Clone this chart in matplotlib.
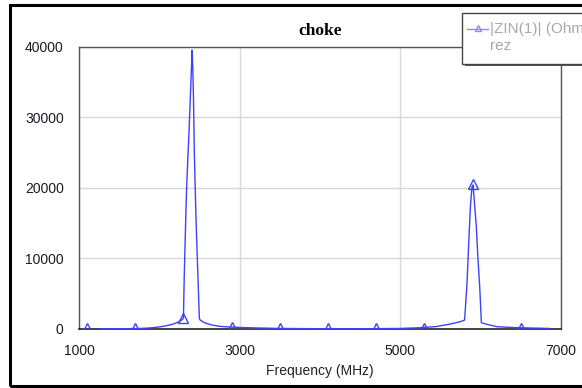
import matplotlib
matplotlib.use("Agg")
import matplotlib.pyplot as plt
from matplotlib.patches import Rectangle

# ---- data ----
freq_mhz = [1250, 1500, 1700, 1850, 1950, 2050, 2150, 2220, 2270, 2300,
            2310, 2325, 2340, 2375, 2385, 2395, 2408, 2416, 2425, 2436,
            2457, 2478, 2498, 2508, 2560, 2650, 2750, 2850, 3000, 3200,
            3500, 3700, 4000, 4300, 4700, 5000, 5250, 5450, 5620, 5745,
            5800, 5830, 5851, 5872, 5892, 5905, 5920, 5946, 5967, 5988,
            6009, 6080, 6205, 6454, 6700, 6850]
zin_ohm = [20, 30, 60, 120, 220, 380, 620, 900, 1200, 1500,
           7400, 14000, 20100, 29500, 32500, 35500, 39500, 37100, 32800, 24800,
           15400, 8300, 1500, 1270, 900, 570, 380, 300, 220, 150,
           80, 60, 40, 40, 50, 80, 180, 350, 700, 1030,
           1270, 6500, 12100, 17300, 20100, 20400, 18300, 14500, 9800, 6000,
           900, 650, 320, 180, 120, 80]

marker_freq = [1100, 1700, 2300, 2900, 3500, 4100, 4700, 5300, 5900, 6500]
marker_val = [150, 150, 1500, 350, 150, 150, 150, 200, 20600, 200]

x_ticks = [1000, 3000, 5000, 7000]
y_ticks = [0, 10000, 20000, 30000, 40000]

title = "choke"
xlabel = "Frequency (MHz)"
legend_line1 = "|ZIN(1)| (Ohm)"
legend_line2 = "rez"

line_color = "#4040ff"

fig = plt.figure(figsize=(5.82, 3.88), dpi=100)
W, H = 582, 388

def fx(px):
    return px / W

def fy(py):
    return 1 - py / H

# outer black border
fig.patches.append(Rectangle((fx(10), fy(386)), fx(600) - fx(10), fy(5) - fy(386),
                             transform=fig.transFigure, fill=False,
                             edgecolor="black", linewidth=2.2, zorder=0))

ax = fig.add_axes([fx(79), fy(329), fx(561) - fx(79), fy(46.5) - fy(329)])
ax.plot(freq_mhz, zin_ohm, color=line_color, linewidth=1.0, zorder=3, clip_on=False)
ax.plot(marker_freq, marker_val, linestyle="none", marker="^", markersize=6.5,
        markerfacecolor="none", markeredgecolor=line_color, markeredgewidth=1.0,
        zorder=4, clip_on=True)

ax.set_xlim(1000, 7000)
ax.set_ylim(0, 40000)
ax.set_xticks(x_ticks)
ax.set_yticks(y_ticks)
ax.set_xticklabels([str(v) for v in x_ticks])
ax.set_yticklabels([str(v) for v in y_ticks])
ax.tick_params(axis="both", length=0, labelsize=10, labelcolor="#1a1a24",
               labelfontfamily="Liberation Sans")
ax.tick_params(axis="x", pad=10.5)
ax.tick_params(axis="y", pad=11)
ax.grid(True, color="#d8d8d8", linewidth=1.0, zorder=0)
ax.set_axisbelow(True)
for side in ["top", "left", "right"]:
    ax.spines[side].set_color("#555555")
    ax.spines[side].set_linewidth(1.0)
ax.spines["bottom"].set_color("#222222")
ax.spines["bottom"].set_linewidth(1.2)

fig.text(fx(320), fy(31), title, ha="center", va="center",
         fontfamily="Liberation Serif", fontweight="bold", fontsize=12.5)
fig.text(fx(320), fy(371), xlabel, ha="center", va="center",
         fontfamily="Liberation Sans", fontsize=10, color="#222222")

# legend box (cut off at the right edge, with drop shadow)
fig.patches.append(Rectangle((fx(465), fy(66)), fx(640) - fx(465), fy(15) - fy(66),
                             transform=fig.transFigure, facecolor="#555555",
                             edgecolor="none", zorder=5))
fig.patches.append(Rectangle((fx(462), fy(64)), fx(640) - fx(462), fy(12.5) - fy(64),
                             transform=fig.transFigure, facecolor="white",
                             edgecolor="#444444", linewidth=1.0, zorder=6))
fig.lines.append(plt.Line2D([fx(467), fx(488)], [fy(28.5), fy(28.5)],
                            transform=fig.transFigure, color="#8c8cf0",
                            linewidth=1.0, zorder=7))
fig.lines.append(plt.Line2D([fx(478)], [fy(27.5)], transform=fig.transFigure,
                            linestyle="none", marker="^", markersize=5,
                            markerfacecolor="none", markeredgecolor="#8c8cf0",
                            zorder=7))
fig.text(fx(490), fy(28.5), legend_line1, ha="left", va="center",
         fontfamily="Liberation Sans", fontsize=11, color="#a8a8a8", zorder=8)
fig.text(fx(490), fy(46.5), legend_line2, ha="left", va="center",
         fontfamily="Liberation Sans", fontsize=11, color="#a8a8a8", zorder=8)

fig.savefig("out.png", dpi=100)
